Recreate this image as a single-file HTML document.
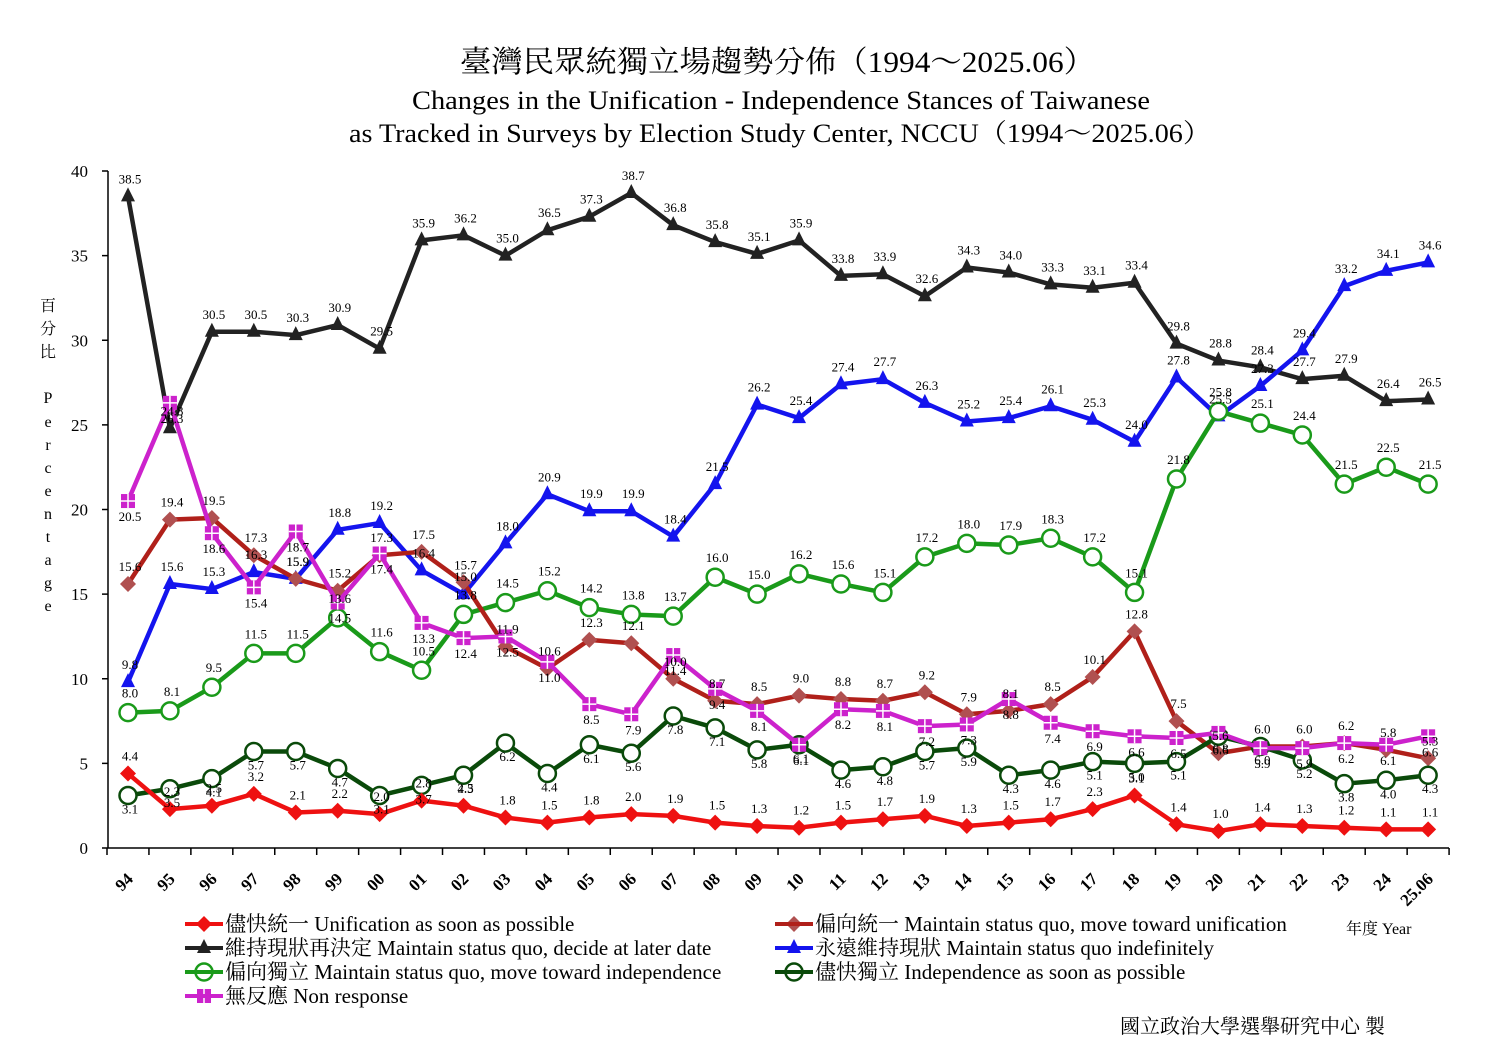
<!DOCTYPE html>
<html><head><meta charset="utf-8"><style>
body{margin:0;background:#fff;}
svg{display:block;font-family:"Liberation Serif","Noto Serif CJK SC",serif;}
</style></head><body>
<svg id="c" width="1500" height="1061" viewBox="0 0 1500 1061" xmlns="http://www.w3.org/2000/svg">
<rect width="1500" height="1061" fill="#fff"/>
<text x="460" y="72" font-size="30" textLength="635" lengthAdjust="spacingAndGlyphs" font-family="'Liberation Serif','Noto Serif CJK TC',serif">臺灣民眾統獨立場趨勢分佈（1994～2025.06）</text>
<text x="412" y="109" font-size="26" textLength="738" lengthAdjust="spacingAndGlyphs">Changes in the Unification - Independence Stances of Taiwanese</text>
<text x="349" y="142" font-size="26" textLength="862" lengthAdjust="spacingAndGlyphs">as Tracked in Surveys by Election Study Center, NCCU（1994～2025.06）</text>
<g font-size="16" text-anchor="middle" font-family="'Liberation Serif','Noto Serif CJK TC',serif">
<text x="48" y="311">百</text><text x="48" y="334">分</text><text x="48" y="357">比</text>
<text x="48" y="403">P</text><text x="48" y="427">e</text><text x="48" y="450">r</text><text x="48" y="473">c</text><text x="48" y="496">e</text><text x="48" y="519">n</text><text x="48" y="542">t</text><text x="48" y="565">a</text><text x="48" y="588">g</text><text x="48" y="611">e</text>
</g>
<g id="axes" stroke="#000" stroke-width="1.5" fill="none"></g>
<g id="ylab" font-size="17" text-anchor="end"></g>
<g id="xlab" font-size="17" font-weight="bold"></g>
<g id="series"></g>
<g id="labels" font-size="13" text-anchor="middle"></g>
<g id="legend" font-size="21" font-family="'Liberation Serif','Noto Serif CJK TC',serif"></g>
<text x="1346" y="934" font-size="16" font-family="'Liberation Serif','Noto Serif CJK TC',serif">年度 Year</text>
<text x="1120" y="1033" font-size="20" font-family="'Liberation Serif','Noto Serif CJK TC',serif">國立政治大學選舉研究中心 製</text>
</svg>
<script>
var NS="http://www.w3.org/2000/svg";
function el(p,t,a,txt){var e=document.createElementNS(NS,t);for(var k in a)e.setAttribute(k,a[k]);if(txt!=null)e.textContent=txt;document.getElementById(p).appendChild(e);return e;}
var X0=128,DX=41.94,Y0=848,SY=16.925;
function X(i){return X0+i*DX;}function Y(v){return Y0-v*SY;}
el("axes","line",{x1:108,y1:171,x2:108,y2:848});
el("axes","line",{x1:108,y1:848,x2:1449,y2:848});
for(var v=0;v<=40;v+=5){el("axes","line",{x1:102,y1:Y(v),x2:108,y2:Y(v)});el("ylab","text",{x:88,y:Y(v)+6},String(v));}
var yrs=["94","95","96","97","98","99","00","01","02","03","04","05","06","07","08","09","10","11","12","13","14","15","16","17","18","19","20","21","22","23","24","25.06"];
for(var i=0;i<=32;i++){var bx=107+i*DX;el("axes","line",{x1:bx,y1:848,x2:bx,y2:855});}
yrs.forEach(function(s,i){var x=X(i)+6,y=880;el("xlab","text",{x:x,y:y,"text-anchor":"end",transform:"rotate(-45 "+x+" "+y+")"},s);});
var S=[
{c:"#222",m:"tri",o:-13,d:["38.5","24.8","30.5","30.5","30.3","30.9","29.5","35.9","36.2","35.0","36.5","37.3","38.7","36.8","35.8","35.1","35.9","33.8","33.9","32.6","34.3","34.0","33.3","33.1","33.4","29.8","28.8","28.4","27.7","27.9","26.4","26.5"]},
{c:"#1414ee",m:"tri",o:-13,d:["9.8","15.6","15.3","16.3","15.9","18.8","19.2","16.4","15.0","18.0","20.9","19.9","19.9","18.4","21.5","26.2","25.4","27.4","27.7","26.3","25.2","25.4","26.1","25.3","24.0","27.8","25.5","27.3","29.4","33.2","34.1","34.6"]},
{c:"#1a9a1a",m:"circ",o:-15,d:["8.0","8.1","9.5","11.5","11.5","13.6","11.6","10.5","13.8","14.5","15.2","14.2","13.8","13.7","16.0","15.0","16.2","15.6","15.1","17.2","18.0","17.9","18.3","17.2","15.1","21.8","25.8","25.1","24.4","21.5","22.5","21.5"]},
{c:"#b0201a",m:"dia",fill:"#b05050",o:-13,d:["15.6","19.4","19.5","17.3","15.9","15.2","17.3","17.5","15.7","11.9","10.6","12.3","12.1","10.0","8.7","8.5","9.0","8.8","8.7","9.2","7.9","8.1","8.5","10.1","12.8","7.5","5.6","6.0","6.0","6.2","5.8","5.3"]},
{c:"#0a4a0a",m:"circ",o:18,d:["3.1","3.5","4.1","5.7","5.7","4.7","3.1","3.7","4.3","6.2","4.4","6.1","5.6","7.8","7.1","5.8","6.1","4.6","4.8","5.7","5.9","4.3","4.6","5.1","5.0","5.1","6.6","6.0","5.2","3.8","4.0","4.3"]},
{c:"#ee1111",m:"dia",o:-13,d:["4.4","2.3","2.5","3.2","2.1","2.2","2.0","2.8","2.5","1.8","1.5","1.8","2.0","1.9","1.5","1.3","1.2","1.5","1.7","1.9","1.3","1.5","1.7","2.3","3.1","1.4","1.0","1.4","1.3","1.2","1.1","1.1"]},
{c:"#cc22cc",m:"sq",o:20,d:["20.5","26.3","18.6","15.4","18.7","14.5","17.4","13.3","12.4","12.5","11.0","8.5","7.9","11.4","9.4","8.1","6.1","8.2","8.1","7.2","7.3","8.8","7.4","6.9","6.6","6.5","6.8","5.9","5.9","6.2","6.1","6.6"]}
];
function marker(s,x,y){
 if(s.m=="tri")el("series","polygon",{points:(x)+","+(y-9)+" "+(x-7)+","+(y+5)+" "+(x+7)+","+(y+5),fill:s.c});
 else if(s.m=="circ")el("series","circle",{cx:x,cy:y,r:8.5,fill:"#fff",stroke:s.c,"stroke-width":2.5});
 else if(s.m=="dia")el("series","polygon",{points:x+","+(y-8)+" "+(x+8)+","+y+" "+x+","+(y+8)+" "+(x-8)+","+y,fill:s.fill||s.c});
 else {el("series","rect",{x:x-7,y:y-7,width:14,height:14,fill:s.c});el("series","path",{d:"M"+x+" "+(y-7)+"V"+(y+7)+"M"+(x-7)+" "+y+"H"+(x+7),stroke:"#fff","stroke-width":1.5});}
}
S.forEach(function(s){
 var pts=s.d.map(function(v,i){return X(i)+","+Y(+v);}).join(" ");
 el("series","polyline",{points:pts,fill:"none",stroke:s.c,"stroke-width":4.5,"stroke-linejoin":"round"});
 s.d.forEach(function(v,i){marker(s,X(i),Y(+v));el("labels","text",{x:X(i)+2,y:Y(+v)+s.o},v);});
});
var L=[
[185,924,5,"儘快統一 Unification as soon as possible"],
[775,924,3,"偏向統一 Maintain status quo, move toward unification"],
[185,948,0,"維持現狀再決定 Maintain status quo, decide at later date"],
[775,948,1,"永遠維持現狀 Maintain status quo indefinitely"],
[185,972,2,"偏向獨立 Maintain status quo, move toward independence"],
[775,972,4,"儘快獨立 Independence as soon as possible"],
[185,996,6,"無反應 Non response"]];
L.forEach(function(l){var s=S[l[2]];
 el("legend","line",{x1:l[0],y1:l[1],x2:l[0]+38,y2:l[1],stroke:s.c,"stroke-width":4});
 marker(s,l[0]+19,l[1]);
 el("legend","text",{x:l[0]+40,y:l[1]+7},l[3]);
});
</script>
</body></html>
